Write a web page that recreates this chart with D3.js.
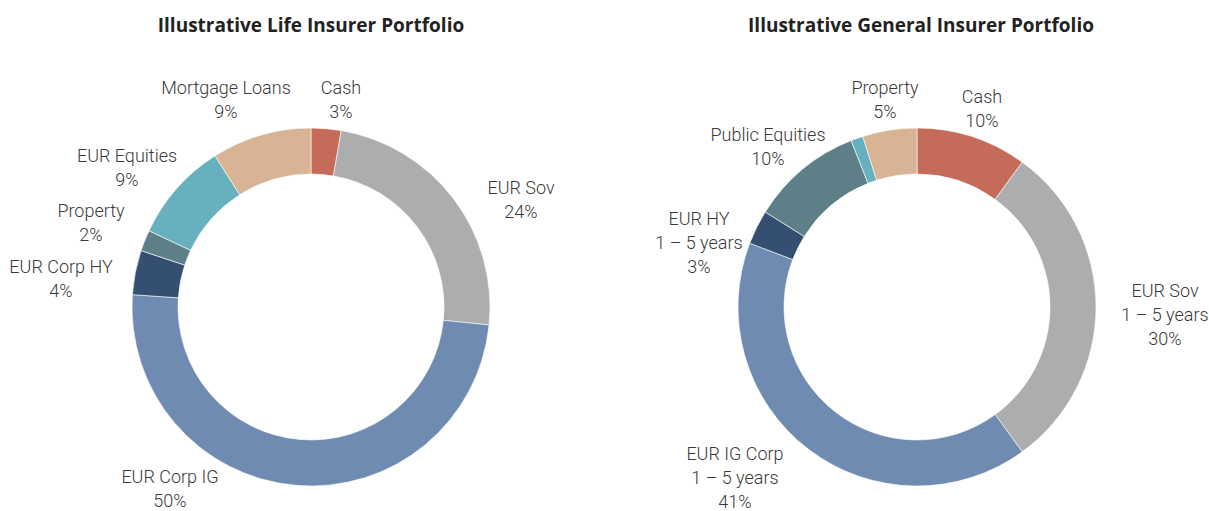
<!DOCTYPE html>
<html>
<head>
<meta charset="utf-8">
<script src="https://cdn.jsdelivr.net/npm/d3@7"></script>
<style>
  body { margin: 0; background: #fff; }
  text { font-family: Roboto, "Open Sans", sans-serif; font-weight: 300; fill: #3a3a3a; }
</style>
</head>
<body>
<svg id="chart" width="1209" height="511"></svg>
<script>
// Life insurer portfolio (clockwise from 12 o'clock)
const lifeCategories = ["Cash", "EUR Sov", "EUR Corp IG", "EUR Corp HY", "Property", "EUR Equities", "Mortgage Loans"];
const lifeValues = [2.7, 23.9, 49.5, 4.0, 1.9, 9.0, 9.0];
const lifeLabels = [["Cash", "3%"], ["EUR Sov", "24%"], ["EUR Corp IG", "50%"], ["EUR Corp HY", "4%"],
                    ["Property", "2%"], ["EUR Equities", "9%"], ["Mortgage Loans", "9%"]];

// General insurer portfolio (the thin light-teal slice carries no label)
const genCategories = ["Cash", "EUR Sov", "EUR IG Corp", "EUR HY", "Public Equities", "Other", "Property"];
const genValues = [10.0, 30.0, 40.8, 3.1, 10.1, 1.1, 4.9];
const genLabels = [["Cash", "10%"], ["EUR Sov", "1 \u2013 5 years", "30%"], ["EUR IG Corp", "1 \u2013 5 years", "41%"],
                   ["EUR HY", "1 \u2013 5 years", "3%"], ["Public Equities", "10%"], null, ["Property", "5%"]];

const lifeColors = ["#c46b59", "#acadaf", "#6f8bb1", "#354f73", "#5c7f88", "#67b1bf", "#d9b494"];
const genColors  = ["#c46b59", "#acadaf", "#6f8bb1", "#354f73", "#5c7f88", "#67b1bf", "#d9b494"];

// label anchor points (first line baseline), placed by hand as in the original
const lifeLabelPos = [[341, 94], [521, 194], [170, 483], [61, 273], [91, 217], [127, 162], [226, 94]];
const genLabelPos = [[982, 103], [1165, 297], [735, 460], [699, 225], [768, 141], null, [885, 94]];

const outerR = 179, innerR = 133, lineH = 24;

const svg = d3.select("#chart");

function drawDonut(cx, cy, title, titleX, titleY, values, fills, labels, labelPos) {
    let g = svg.append("g")
        .attr("transform", "translate(" + cx + "," + cy + ")");

    let pie = d3.pie().sort(null).value(d => d);
    let arc = d3.arc().innerRadius(innerR).outerRadius(outerR);

    g.selectAll("path")
        .data(pie(values))
        .enter()
        .append("path")
        .attr("d", arc)
        .attr("fill", (d, i) => fills[i])
        .attr("stroke", "#fff")
        .attr("stroke-width", 0.6);

    svg.append("text")
        .attr("x", titleX)
        .attr("y", titleY)
        .attr("text-anchor", "middle")
        .style("font-family", "'Open Sans', sans-serif")
        .style("font-size", "19px")
        .style("font-weight", "bold")
        .style("fill", "#222")
        .text(title);

    labels.forEach(function (lines, i) {
        if (!lines) return;
        let t = svg.append("text")
            .attr("text-anchor", "middle")
            .style("font-size", "18px");
        lines.forEach(function (s, j) {
            t.append("tspan")
                .attr("x", labelPos[i][0])
                .attr("y", labelPos[i][1] + j * lineH)
                .text(s);
        });
    });
}

drawDonut(311, 307, "Illustrative Life Insurer Portfolio", 311, 32,
          lifeValues, lifeColors, lifeLabels, lifeLabelPos);
drawDonut(917, 307, "Illustrative General Insurer Portfolio", 921, 32,
          genValues, genColors, genLabels, genLabelPos);
</script>
</body>
</html>
